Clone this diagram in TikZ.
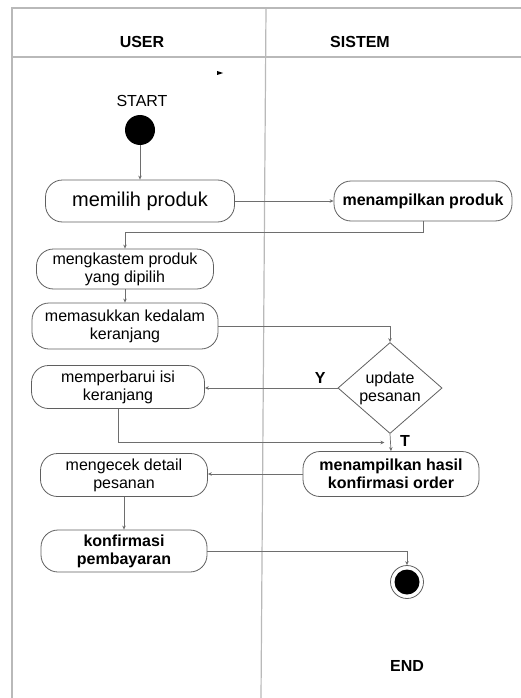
\documentclass[tikz,border=0pt]{standalone}
\usepackage{fontspec}
\setmainfont{Liberation Sans}
\usepackage{tikz}
\usetikzlibrary{shapes.geometric}
\usetikzlibrary{arrows.meta}
\usetikzlibrary{positioning,calc}
\definecolor{framegray}{RGB}{185,185,185}
\definecolor{boxgray}{RGB}{95,95,95}
\definecolor{linegray}{RGB}{110,110,110}
\tikzset{
	act/.style={draw=boxgray,line width=0.8pt,rounded corners=17pt,inner sep=2pt,align=center,font=\fontsize{16}{18}\selectfont},
	decision/.style={draw=boxgray,line width=0.8pt,shape=diamond,aspect=1.3,inner sep=0pt,minimum width=104pt,minimum height=91pt,align=center,font=\fontsize{16}{18}\selectfont},
	flow/.style={draw=linegray,line width=0.7pt,-{Stealth[length=4pt,width=3.5pt]}},
	lane/.style={draw=framegray,line width=1.2pt}
}
\begin{document}
\begin{tikzpicture}[x=1pt,y=-1pt]
	\useasboundingbox (0,0) rectangle (521,698);
	% swimlanes
	\draw [lane] (521,8) -- (12,8) -- (12,698);
	\draw [lane] (12,57) -- (521,57);
	\draw [lane] (266,8) -- (261,698);
	\node [font=\fontsize{16}{18}\selectfont\bfseries] (user) at (142,42) {USER};
	\node [font=\fontsize{16}{18}\selectfont\bfseries] (sistem) at (360,42) {SISTEM};
	\fill [black] (217,71) -- (223,73) -- (217,75) -- cycle;
	% start
	\node [font=\fontsize{16}{18}\selectfont] (startlbl) at (142,101) {START};
	\node [circle,fill=black,minimum size=30pt,inner sep=0pt] (start) at (140,130) {};
	% activities
	\node [act,minimum width=189pt,minimum height=42pt,font=\fontsize{20}{24}\selectfont] (pilih) at (140,201) {memilih produk};
	\node [act,minimum width=178pt,minimum height=40pt,font=\fontsize{16}{18}\selectfont\bfseries] (tampil) at (423,201) {menampilkan produk};
	\node [act,minimum width=177pt,minimum height=40pt] (kastem) at (125,269) {mengkastem produk\\yang dipilih};
	\node [act,minimum width=186pt,minimum height=46pt] (masuk) at (125,326) {memasukkan kedalam\\keranjang};
	\node [decision] (update) at (390,388) {update\\pesanan};
	\node [act,minimum width=173pt,minimum height=43pt] (perbarui) at (118,387) {memperbarui isi\\keranjang};
	\node [act,minimum width=176pt,minimum height=45pt,font=\fontsize{16}{18}\selectfont\bfseries] (hasil) at (391,474) {menampilkan hasil\\konfirmasi order};
	\node [act,minimum width=167pt,minimum height=43pt] (detail) at (124,475) {mengecek detail\\pesanan};
	\node [act,minimum width=166pt,minimum height=42pt,font=\fontsize{16}{18}\selectfont\bfseries] (bayar) at (124,551) {konfirmasi\\pembayaran};
	% end
	\node [circle,draw=boxgray,line width=0.8pt,minimum size=33pt,inner sep=0pt] (end) at (407,582) {};
	\fill [black] (end.center) circle (12.5pt);
	\node [font=\fontsize{16}{18}\selectfont\bfseries] (endlbl) at (407,666) {END};
	% flows
	\coordinate (merge) at ($(update.south)!0.5!(hasil.north)$);
	\draw [flow] (start) -- (pilih);
	\draw [flow] (pilih) -- (tampil);
	\draw [flow] (tampil.south) -- ++(0,11) -| (kastem.north);
	\draw [flow] (kastem) -- (masuk);
	\draw [flow] (masuk.east) -| (update.north);
	\draw [flow] (update.west) -- node [pos=0.13,above=1pt,font=\fontsize{16}{18}\selectfont\bfseries] (ylbl) {Y} (perbarui.east |- update.west);
	\draw [flow] (perbarui.south) |- ([xshift=-6pt]merge);
	\draw [flow] (update.south) -- (hasil.north);
	\node [font=\fontsize{16}{18}\selectfont\bfseries] (tlbl) at (405,441) {T};
	\draw [flow] (hasil.west) -- (detail.east |- hasil.west);
	\draw [flow] (detail) -- (bayar);
	\draw [flow] (bayar.east) -| (end.north);
\end{tikzpicture}
\end{document}
